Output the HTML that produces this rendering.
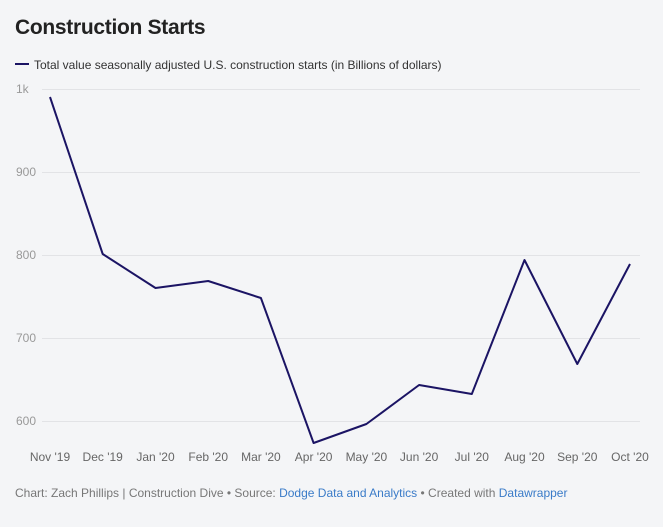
<!DOCTYPE html>
<html><head><meta charset="utf-8"><style>
body{margin:0;background:#f3f4f6;font-family:"Liberation Sans",sans-serif;}
.wrap{position:relative;width:663px;height:527px;background:#f4f5f7;overflow:hidden}
h1{position:absolute;left:15px;top:16px;margin:0;font-size:21px;font-weight:bold;color:#222;letter-spacing:-0.3px}
.leg{position:absolute;left:15px;top:58px;font-size:12px;color:#333}
.leg span{display:inline-block;width:14px;height:2px;background:#1b1464;vertical-align:middle;margin-right:5px;position:relative;top:-2px}
.foot{position:absolute;left:15px;top:486px;font-size:12px;color:#777}
.foot a{color:#3a7bc8;text-decoration:none}
</style></head><body><div class="wrap">
<h1>Construction Starts</h1>
<div class="leg"><span></span>Total value seasonally adjusted U.S. construction starts (in Billions of dollars)</div>
<svg width="663" height="527" style="position:absolute;left:0;top:0" font-family="Liberation Sans, sans-serif">
<g stroke="#e2e3e6" stroke-width="1">
<line x1="42" x2="640" y1="89.5" y2="89.5"/><line x1="42" x2="640" y1="172.5" y2="172.5"/>
<line x1="42" x2="640" y1="255.5" y2="255.5"/><line x1="42" x2="640" y1="338.5" y2="338.5"/>
<line x1="42" x2="640" y1="421.5" y2="421.5"/></g>
<g fill="#999" font-size="12">
<text x="16" y="93">1k</text><text x="16" y="176">900</text><text x="16" y="259">800</text><text x="16" y="342">700</text><text x="16" y="425">600</text></g>
<g fill="#666" font-size="12" text-anchor="middle">
<text x="50" y="461">Nov '19</text><text x="102.7" y="461">Dec '19</text><text x="155.5" y="461">Jan '20</text><text x="208.2" y="461">Feb '20</text><text x="260.9" y="461">Mar '20</text><text x="313.6" y="461">Apr '20</text><text x="366.4" y="461">May '20</text><text x="419.1" y="461">Jun '20</text><text x="471.8" y="461">Jul '20</text><text x="524.5" y="461">Aug '20</text><text x="577.3" y="461">Sep '20</text><text x="630" y="461">Oct '20</text></g>
<polyline fill="none" stroke="#1b1464" stroke-width="2" stroke-linejoin="round" points="50,97 102.7,254 155.5,288 208.2,281 260.9,298 313.6,443 366.4,424 419.1,385 471.8,394 524.5,260 577.3,364 630,264"/>
</svg>
<div class="foot">Chart: Zach Phillips | Construction Dive • Source: <a>Dodge Data and Analytics</a> • Created with <a>Datawrapper</a></div>
</div></body></html>
